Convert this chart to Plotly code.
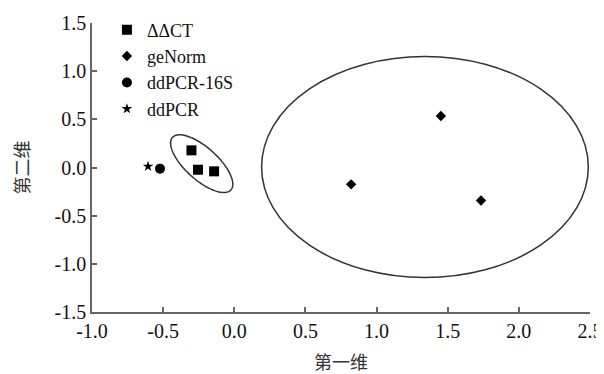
import numpy as np
import plotly.graph_objects as go

# Data
ddct_x = [-0.301, -0.255, -0.142]
ddct_y = [0.178, -0.023, -0.040]
genorm_x = [1.452, 0.821, 1.734]
genorm_y = [0.535, -0.175, -0.342]
ddpcr16s_x = [-0.522]
ddpcr16s_y = [-0.012]
ddpcr_x = [-0.606]
ddpcr_y = [0.011]

x_ticks = [-1.0, -0.5, 0.0, 0.5, 1.0, 1.5, 2.0, 2.5]
y_ticks = [-1.5, -1.0, -0.5, 0.0, 0.5, 1.0, 1.5]

# Ellipse parameters (data units)
big_ell = dict(cx=1.34, cy=0.005, rx=1.148, ry=1.148)
small_ell = dict(cx=-0.229, cy=0.04, a=0.276, b=0.113, ang_deg=-42)

# The page body has an 8px default margin, so the figure is sized to fill the rest
W, H = 596, 366
ML, MR, MT, MB = 84, 14, 15, 62
px_per_x = (W - ML - MR) / 3.5
px_per_y = (H - MT - MB) / 3.0

serif = "Liberation Serif, Times New Roman, serif"
cjk = "Noto Sans CJK SC"

fig = go.Figure()
mk = dict(color="black", line=dict(width=0))
fig.add_trace(go.Scatter(x=ddct_x, y=ddct_y, mode="markers", name="ΔΔCT",
                         marker=dict(symbol="square", size=10, **mk)))
fig.add_trace(go.Scatter(x=genorm_x, y=genorm_y, mode="markers", name="geNorm",
                         marker=dict(symbol="diamond", size=8, **mk)))
fig.add_trace(go.Scatter(x=ddpcr16s_x, y=ddpcr16s_y, mode="markers", name="ddPCR-16S",
                         marker=dict(symbol="circle", size=10, **mk)))
fig.add_trace(go.Scatter(x=ddpcr_x, y=ddpcr_y, mode="markers", name="ddPCR",
                         marker=dict(symbol="star", size=8, **mk)))

# Big ellipse
fig.add_shape(type="circle", xref="x", yref="y",
              x0=big_ell["cx"] - big_ell["rx"], x1=big_ell["cx"] + big_ell["rx"],
              y0=big_ell["cy"] - big_ell["ry"], y1=big_ell["cy"] + big_ell["ry"],
              line=dict(color="#333", width=1.5), layer="below")

# Small rotated ellipse (rotation defined in screen pixel space)
t = np.linspace(0, 2 * np.pi, 120)
th = np.deg2rad(small_ell["ang_deg"])
a_px = small_ell["a"] * px_per_x
b_px = small_ell["b"] * px_per_x
ex = a_px * np.cos(t) * np.cos(th) - b_px * np.sin(t) * np.sin(th)
ey = a_px * np.cos(t) * np.sin(th) + b_px * np.sin(t) * np.cos(th)
xs = small_ell["cx"] + ex / px_per_x
ys = small_ell["cy"] + ey / px_per_y
path = "M " + " L ".join(f"{x:.4f},{y:.4f}" for x, y in zip(xs, ys)) + " Z"
fig.add_shape(type="path", path=path, xref="x", yref="y",
              line=dict(color="#333", width=1.5), layer="below")

axis_common = dict(showgrid=False, zeroline=False, showline=True, linecolor="#666",
                   linewidth=1.5, ticks="inside", ticklen=5, tickcolor="#666", tickwidth=1.5,
                   tickfont=dict(family=serif, size=20, color="#111"), mirror=False,
                   automargin=False)

fig.update_layout(
    width=W, height=H,
    margin=dict(l=ML, r=MR, t=MT, b=MB, autoexpand=False),
    paper_bgcolor="white", plot_bgcolor="white",
    xaxis=dict(range=[-1.0, 2.5], tickvals=x_ticks,
               ticktext=[f"{v:.1f}" for v in x_ticks],
               title=dict(text="第一维", font=dict(family=cjk, size=18, color="#333"), standoff=22),
               **axis_common),
    yaxis=dict(range=[-1.5, 1.5], tickvals=y_ticks,
               ticktext=[f"{v:.1f}" for v in y_ticks],
               title=dict(text="第二维", font=dict(family=cjk, size=18, color="#333"), standoff=24),
               **axis_common),
    legend=dict(x=0.03, y=1.04, xanchor="left", yanchor="top",
                font=dict(family=serif, size=18, color="#111"),
                bgcolor="rgba(0,0,0,0)", itemwidth=30, tracegroupgap=0),
    showlegend=True,
)

fig.write_html("out.html")
